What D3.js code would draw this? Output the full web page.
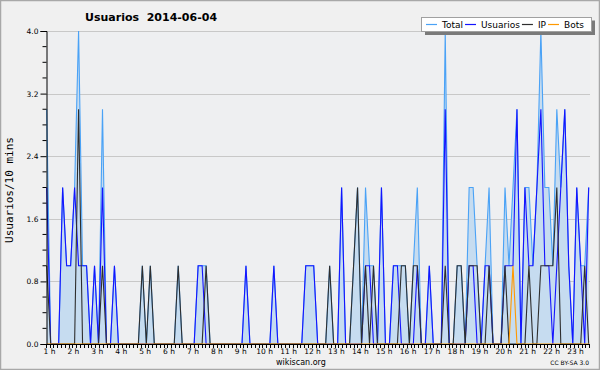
<!DOCTYPE html>
<html><head><meta charset="utf-8">
<script src="https://cdn.jsdelivr.net/npm/d3@7"></script>
<style>
body{margin:0;background:#fff}
text{font-family:"DejaVu Sans",sans-serif}
text.mono{font-family:"DejaVu Sans Mono",monospace}
</style></head><body>
<svg id="c" width="600" height="370"></svg>
<script>
// ---- data (10-minute samples) ----
const hours = d3.range(1, 24);
const hourLabels = hours.map(h => h + " h");
const yTicks = [0, 0.8, 1.6, 2.4, 3.2, 4.0];
const seriesNames = ["Total", "Usuarios", "IP", "Bots"];

const total = [
  3,0,0,0,2,1,1,2,4,1,
  1,0,1,0,3,0,0,1,0,0,
  0,0,0,0,1,0,1,0,0,0,
  0,0,0,1,0,0,0,0,1,1,
  1,0,0,0,0,0,0,0,0,0,
  1,0,0,0,0,0,0,1,0,0,
  0,0,0,0,0,1,1,1,0,0,
  0,1,0,0,2,0,0,1,2,0,
  2,1,1,0,2,0,0,1,1,1,
  1,0,1,2,0,0,1,0,0,0,
  4,0,0,1,1,0,2,2,1,0,
  1,2,0,0,0,2,1,2,3,0,
  2,2,1,2,4,2,2,1,3,2,
  3,1,0,2,1,1,2];
const usuarios = [
  2,0,0,0,2,1,1,2,1,1,
  1,0,1,0,2,0,0,1,0,0,
  0,0,0,0,0,0,0,0,0,0,
  0,0,0,0,0,0,0,0,1,1,
  0,0,0,0,0,0,0,0,0,0,
  1,0,0,0,0,0,0,1,0,0,
  0,0,0,0,0,1,1,1,0,0,
  0,0,0,0,2,0,0,0,0,0,
  1,1,0,0,2,0,0,1,1,0,
  0,0,0,1,0,0,1,0,0,0,
  3,0,0,0,0,0,1,1,0,0,
  1,1,0,0,0,1,1,1,3,0,
  2,1,1,2,3,1,1,0,1,2,
  3,1,0,2,1,0,2];
const ip = [
  1,0,0,0,0,0,0,0,3,0,
  0,0,0,0,1,0,0,0,0,0,
  0,0,0,0,1,0,1,0,0,0,
  0,0,0,1,0,0,0,0,0,0,
  1,0,0,0,0,0,0,0,0,0,
  0,0,0,0,0,0,0,0,0,0,
  0,0,0,0,0,0,0,0,0,0,
  0,1,0,0,0,0,0,1,2,0,
  1,0,1,0,0,0,0,0,0,1,
  1,0,1,1,0,0,0,0,0,0,
  1,0,0,1,1,0,1,1,1,0,
  0,1,0,0,0,1,0,0,0,0,
  0,1,0,0,1,1,1,1,2,0,
  0,0,0,0,0,1,0];
const bots = [
  0,0,0,0,0,0,0,0,0,0,
  0,0,0,0,0,0,0,0,0,0,
  0,0,0,0,0,0,0,0,0,0,
  0,0,0,0,0,0,0,0,0,0,
  0,0,0,0,0,0,0,0,0,0,
  0,0,0,0,0,0,0,0,0,0,
  0,0,0,0,0,0,0,0,0,0,
  0,0,0,0,0,0,0,0,0,0,
  0,0,0,0,0,0,0,0,0,0,
  0,0,0,0,0,0,0,0,0,0,
  0,0,0,0,0,0,0,0,0,0,
  0,0,0,0,0,0,0,1,0,0,
  0,0,0,0,0,0,0,0,0,0,
  0,0,0,0,0,0,0];

const colors = {Total:"#4aa2f6", Usuarios:"#1414ff", IP:"#2e2e2e", Bots:"#ff9900"};
const dataBy = {Total: total, Usuarios: usuarios, IP: ip, Bots: bots};

// ---- layout ----
const svg = d3.select("#c");
const L = 46, R = 590, T = 31, B = 344;

svg.append("rect").attr("x",0.5).attr("y",0.5).attr("width",599).attr("height",369)
  .attr("fill","#f0f0f0").attr("stroke","#a8a8a8").attr("stroke-width",1.5);
svg.append("rect").attr("x",L).attr("y",T).attr("width",R-L).attr("height",B-T).attr("fill","#eeeff1");

const x = d3.scaleLinear().domain([0, total.length-1]).range([46.7, 588.7]);
const y = d3.scaleLinear().domain([0, 4]).range([B, T]);
const xh = d3.scaleLinear().domain([1, 23]).range([49.5, 575.5]);
const xt = d3.scaleLinear().domain([0, 143]).range([45.7, 589.3]);

// grid
svg.append("g").selectAll("line").data(yTicks.filter(v => v > 0)).join("line")
  .attr("x1", L).attr("x2", R).attr("y1", d => Math.round(y(d))+0.5).attr("y2", d => Math.round(y(d))+0.5)
  .attr("stroke","#c8c8c8").attr("stroke-width",1);

// area + lines
const area = d3.area().x((d,i)=>x(i)).y0(y(0)).y1(d=>y(d));
const line = d3.line().x((d,i)=>x(i)).y(d=>y(d));
svg.append("path").datum(total).attr("d", area).attr("fill","#c6dcf0");
seriesNames.forEach(n => {
  svg.append("path").datum(dataBy[n]).attr("d", line)
    .attr("fill","none").attr("stroke", colors[n]).attr("stroke-width",1.1)
    .attr("stroke-linejoin","miter");
});

// y axis
const yAxis = d3.axisLeft(y).tickValues(yTicks).tickFormat(d3.format(".1f")).tickSize(6).tickPadding(2);
const gy = svg.append("g").attr("transform",`translate(${L+0.5},0)`).call(yAxis);
gy.select(".domain").attr("stroke","#000");
gy.selectAll("text").attr("font-size",7.5).attr("fill","#000");
const minor = d3.range(0, 4.01, 0.2).filter(v => Math.abs(v/0.8 - Math.round(v/0.8)) > 0.01);
svg.append("g").selectAll("line").data(minor).join("line")
  .attr("x1", L+0.5-4).attr("x2", L+0.5).attr("y1", d=>y(d)).attr("y2", d=>y(d)).attr("stroke","#000");

// x axis
svg.append("line").attr("x1",L).attr("x2",R).attr("y1",B+0.5).attr("y2",B+0.5).attr("stroke","#000");
svg.append("g").selectAll("line").data(d3.range(144)).join("line")
  .attr("x1", d=>Math.round(xt(d))+0.5).attr("x2", d=>Math.round(xt(d))+0.5)
  .attr("y1", B+0.5).attr("y2", B+4).attr("stroke","#000");
svg.append("g").selectAll("text").data(hours).join("text")
  .attr("x", d=>xh(d)).attr("y", 353.5).attr("text-anchor","middle")
  .attr("font-size",7.5).text((d,i)=>hourLabels[i]);

// title
svg.append("text").attr("x",85).attr("y",21).attr("font-size",11).attr("font-weight","bold")
  .style("white-space","pre").text("Usuarios  2014-06-04");

// y label
svg.append("text").attr("class","mono").attr("transform","translate(13,190) rotate(-90)").attr("text-anchor","middle")
  .attr("font-size",11).text("Usuarios/10 mins");

// footer
svg.append("text").attr("x",276).attr("y",365).attr("font-size",8).text("wikiscan.org");
svg.append("text").attr("x",589).attr("y",365).attr("text-anchor","end").attr("font-size",6).text("CC BY-SA 3.0");

// legend
const lg = svg.append("g");
lg.append("rect").attr("x",425).attr("y",20.5).attr("width",170).attr("height",14.5).attr("fill","#7a7a7a");
lg.append("rect").attr("x",421.5).attr("y",17.5).attr("width",170).attr("height",14).attr("fill","#fff").attr("stroke","#a0a0a0");
let lx = 426;
seriesNames.forEach(n => {
  lg.append("line").attr("x1",lx).attr("x2",lx+11).attr("y1",24.5).attr("y2",24.5).attr("stroke",colors[n]).attr("stroke-width",1.2);
  const t = lg.append("text").attr("x",lx+16).attr("y",28.3).attr("font-size",9).text(n);
  lx = lx + 16 + t.node().getComputedTextLength() + 2;
});
</script>
</body></html>
